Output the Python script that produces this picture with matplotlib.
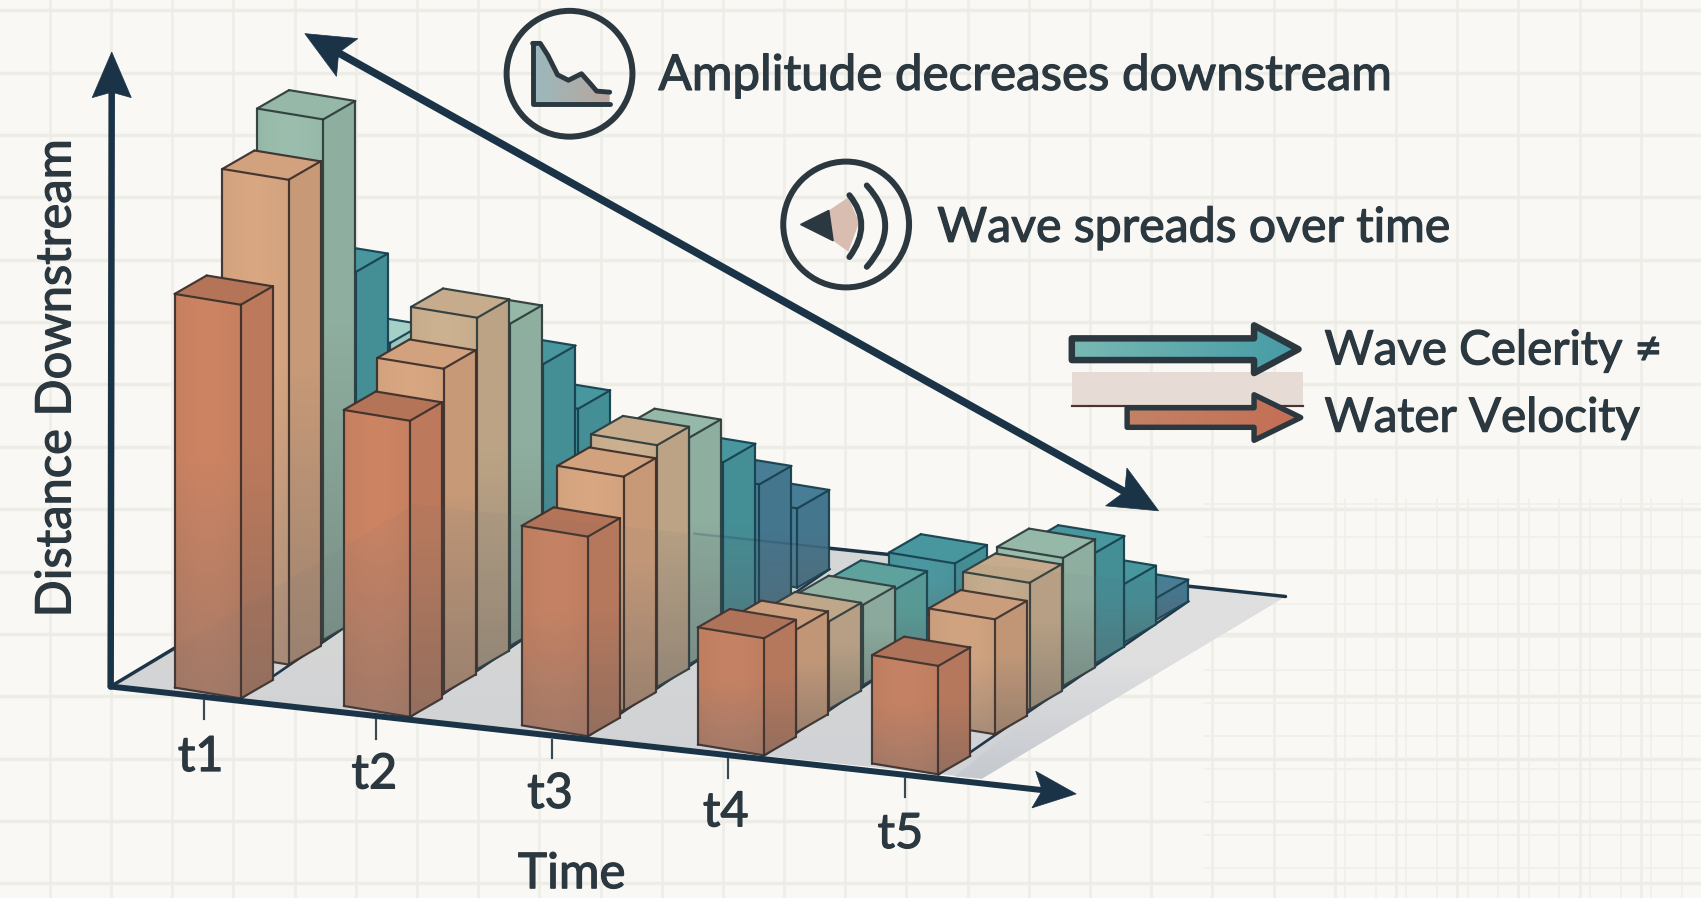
import numpy as np
import matplotlib
matplotlib.use("Agg")
import matplotlib.pyplot as plt
import matplotlib.patheffects as pe
from matplotlib.patches import Polygon, Circle, PathPatch
from matplotlib.path import Path

# ---------- data ----------
time_labels = ["t1", "t2", "t3", "t4", "t5"]
time_pos = [1.00, 1.97, 2.99, 4.00, 5.00]

t1_dist = [0.00, 1.42, 2.45, 3.42, 4.45]
t2_dist = [0.00, 1.00, 2.00, 2.97, 3.97, 5.00]
t3_dist = [0.00, 1.06, 2.06, 3.00, 4.03, 5.10, 6.23]
t4_dist = [0.00, 0.94, 1.94, 2.94, 3.90, 5.68]
t5_dist = [0.00, 1.68, 2.71, 3.71, 4.58, 5.52, 6.48]

t1_height = [3.63, 4.47, 4.80, 3.18, 2.30]
t2_height = [2.73, 2.99, 3.24, 2.97, 2.38, 1.74]
t3_height = [1.84, 2.16, 2.23, 2.09, 1.64, 1.20, 0.73]
t4_height = [1.08, 0.95, 0.81, 0.74, 0.67, 0.52]
t5_height = [1.00, 1.06, 1.17, 1.18, 1.02, 0.54, 0.20]

distances = [t1_dist, t2_dist, t3_dist, t4_dist, t5_dist]
heights = [t1_height, t2_height, t3_height, t4_height, t5_height]

ORANGE = (198, 128, 96)
PEACH = (210, 162, 126)
TAN = (198, 172, 140)
SAGE = (150, 184, 168)
TEALG = (92, 166, 160)
TEAL = (72, 150, 158)
BLUE = (72, 125, 150)
PALE = (165, 208, 200)

palettes = [
    [ORANGE, PEACH, SAGE, TEAL, PALE],
    [ORANGE, PEACH, TAN, SAGE, TEAL, TEAL],
    [ORANGE, PEACH, TAN, SAGE, TEAL, BLUE, BLUE],
    [ORANGE, PEACH, TAN, SAGE, TEALG, TEAL],
    [ORANGE, PEACH, TAN, SAGE, TEAL, TEAL, BLUE],
]

# ---------- canvas (units are reference-view pixels) ----------
plt.rcParams["font.family"] = ["Lato", "Roboto", "DejaVu Sans"]
BG = "#F9F8F4"
INK = "#2B3840"
AXC = "#1B3347"
fig = plt.figure(figsize=(17.01, 8.98), dpi=100, facecolor=BG)
ax = fig.add_axes([0, 0, 1, 1])
ax.set_xlim(0, 1568)
ax.set_ylim(828, 0)
ax.axis("off")
PX = 0.72 * 1701 / 1568  # points per view pixel
HEAVY = [pe.withStroke(linewidth=0.9, foreground=INK)]

# paper grid
for gx in np.arange(46, 1568, 56.4):
    ax.plot([gx, gx], [0, 828], color="#EFEFE9", lw=2.6 * PX, zorder=0.1)
for gy in np.arange(9.5, 828, 57.5):
    ax.plot([0, 1568], [gy, gy], color="#EDEDE7", lw=3.2 * PX, zorder=0.1)
for gx in np.arange(1240, 1568, 28.2):
    ax.plot([gx, gx], [460, 828], color="#EFEEE9", lw=1.4 * PX, zorder=0.2)
for gy in np.arange(465, 828, 30.5):
    ax.plot([1110, 1568], [gy, gy], color="#EFEEE9", lw=1.4 * PX, zorder=0.2)


def project(t, d, h=0.0):
    x = 222 + 160.75 * (t - 1) + 31 * d
    y = 644 + 17.5 * (t - 1) - 22 * d - 100 * h
    return np.array([x, y])


def gradient_poly(pts, top, bottom, z, stripe=0.0, alpha=None):
    pts = np.asarray(pts, float)
    x0, y0 = pts.min(axis=0)
    x1, y1 = pts.max(axis=0)
    u = np.linspace(0, 1, 40)[None, :, None]
    v = np.linspace(0, 1, 100)[:, None, None]
    ramp = np.clip((v - 0.4) / 0.6, 0, 1)
    img = (np.array(top)[None, None, :] * (1 - ramp) + np.array(bottom)[None, None, :] * ramp)
    img = img * (1 + stripe * np.sin(np.pi * u))
    img = np.clip(img / 255.0, 0, 1)
    im = ax.imshow(img, extent=(x0, x1, y1, y0), origin="upper", aspect="auto",
                   interpolation="bilinear", zorder=z, alpha=alpha)
    im.set_clip_path(Polygon(pts, closed=True, transform=ax.transData))


def fade(c):
    return tuple(0.64 * v + 0.36 * g for v, g in zip(c, (100, 104, 108)))


def shade(c, f):
    return tuple(v * f for v in c)


# floor
floor = [(102, 633), (905, 718), (1185, 550), (382, 465)]
gradient_poly(floor, (222, 222, 222), (216, 218, 221), 1)
gradient_poly([(905, 718), (1185, 550), (1100, 540), (880, 716)], (232, 232, 232), (204, 208, 214), 1.1)
ax.plot([382, 1185], [465, 550], color=AXC, lw=3.2 * PX, zorder=1.2, solid_capstyle="round")
ax.plot([102, 382], [633, 465], color=AXC, lw=3.2 * PX, zorder=1.2)

W = np.array([61.0, 10.0])
D = np.array([29.5, -17.0])

# bars: later time and nearer distance are painted last
z = 2.0
for ti, (tp, dists, hs, pal) in enumerate(zip(time_pos, distances, heights, palettes)):
    a = project(tp, 0, 0)
    b = project(tp, dists[-1], 0) + D
    ax.plot([a[0], b[0]], [a[1], b[1]], color=AXC, lw=2.4 * PX, zorder=z)
    z += 0.01
    for di in range(len(dists) - 1, -1, -1):
        c = pal[di]
        edge = "#3D302C" if c in (ORANGE, PEACH) else ("#2F3D3C" if c in (TAN, SAGE) else "#17414F")
        fr_b = project(tp, dists[di], 0)
        fr_t = project(tp, dists[di], hs[di])
        fl_b, fl_t = fr_b - W, fr_t - W
        br_b, br_t = fr_b + D, fr_t + D
        bl_t = fl_t + D
        gradient_poly([fl_t, fr_t, fr_b, fl_b], c, fade(c), z, stripe=0.03)
        gradient_poly([fr_t, br_t, br_b, fr_b], shade(c, 0.95), shade(fade(c), 0.93), z + 0.01)
        top_c = shade(c, 0.91) if c == ORANGE else c
        ax.add_patch(Polygon([fl_t, fr_t, br_t, bl_t], closed=True, fc=np.array(top_c) / 255,
                             ec="none", zorder=z + 0.02))
        for p, q in [(fl_t, fr_t), (fr_t, br_t), (br_t, bl_t), (bl_t, fl_t), (fl_t, fl_b),
                     (fr_t, fr_b), (br_t, br_b), (fl_b, fr_b), (fr_b, br_b)]:
            ax.plot([p[0], q[0]], [p[1], q[1]], color=edge, lw=2.0 * PX, zorder=z + 0.03,
                    solid_capstyle="round", alpha=0.95)
        z += 0.1

# translucent ground plane seen through the bars
ax.add_patch(Polygon(floor, closed=True, fc=(0.42, 0.44, 0.47), ec="none", alpha=0.07, zorder=z))
ax.plot([640, 780], [492, 507], color=AXC, lw=2.2 * PX, alpha=0.22, zorder=z)

TOP = z + 1


def arrow_head(tip, base, half, color=AXC, notch=0.0):
    tip, base = np.array(tip, float), np.array(base, float)
    n = np.array([-(tip - base)[1], (tip - base)[0]])
    n = n / np.hypot(*n) * half
    inner = base + (tip - base) * notch
    ax.add_patch(Polygon([tip, base + n, inner, base - n], closed=True, fc=color, ec=color,
                         lw=0.5, zorder=TOP + 0.1))


# axes
ax.plot([102, 103], [633, 70], color=AXC, lw=6.0 * PX, zorder=TOP, solid_capstyle="round")
arrow_head((103, 48), (103, 90), 18, notch=0.12)
ax.plot([102, 965], [633, 729], color=AXC, lw=5.5 * PX, zorder=TOP, solid_capstyle="round")
arrow_head((992, 732), (953, 728), 17, notch=0.2)

# diagonal double arrow
ax.plot([300, 1045], [42, 458], color=AXC, lw=7.0 * PX, zorder=TOP)
arrow_head((281, 31), (320, 53), 20, notch=0.2)
arrow_head((1068, 471), (1029, 449), 20, notch=0.2)

# time ticks and labels
tick_x = [188, 347, 509, 671, 834]
tick_y = [646, 664, 682, 700, 718]
label_pos = [(185, 698), (345, 714), (507, 732), (669, 749), (830, 769)]
for lab, tx, ty, (lx, ly) in zip(time_labels, tick_x, tick_y, label_pos):
    ax.plot([tx, tx], [ty, ty + 17], color="#3A4A55", lw=2 * PX, zorder=TOP)
    ax.text(lx, ly, lab, ha="center", va="center", fontsize=35, color=INK, zorder=TOP, path_effects=HEAVY)

ax.text(527, 806, "Time", ha="center", va="center", fontsize=35.5, color=INK, zorder=TOP, path_effects=HEAVY)
ax.text(52, 349, "Distance Downstream", ha="center", va="center", rotation=90, fontsize=35.2,
        color=INK, zorder=TOP, path_effects=HEAVY)

# annotations
ax.text(607, 70, "Amplitude decreases downstream", ha="left", va="center", fontsize=35.5, color=INK,
        zorder=TOP, path_effects=HEAVY)
ax.text(864, 210, "Wave spreads over time", ha="left", va="center", fontsize=34.7, color=INK,
        zorder=TOP, path_effects=HEAVY)
ax.text(1221, 324, "Wave Celerity \u2260", ha="left", va="center", fontsize=34.2, color=INK,
        zorder=TOP, path_effects=HEAVY)
ax.text(1221, 386, "Water Velocity", ha="left", va="center", fontsize=34.2, color=INK,
        zorder=TOP, path_effects=HEAVY)

# icon 1: small decaying curve in a circle
ax.add_patch(Circle((525, 68), 58, fc="none", ec=INK, lw=5.5 * PX, zorder=TOP))
cx = [491, 498, 505, 514, 524, 536, 544, 550, 562]
cy = [40, 40, 51, 69, 74, 68, 77, 84, 85]
icon_pts = np.array(list(zip(cx, cy)) + [(562, 96), (491, 96)], float)
g = np.linspace(0, 1, 40)[None, :, None]
img = (np.array((155, 185, 190))[None, None, :] * (1 - g) + np.array((185, 165, 155))[None, None, :] * g) / 255
im = ax.imshow(img, extent=(491, 562, 96, 40), aspect="auto", zorder=TOP)
im.set_clip_path(Polygon(icon_pts, closed=True, transform=ax.transData))
ax.plot(cx, cy, color=INK, lw=4.5 * PX, zorder=TOP + 0.1, solid_capstyle="round")
ax.plot([491, 491, 562], [40, 96, 96], color=INK, lw=4.5 * PX, zorder=TOP + 0.1, solid_capstyle="round")

# icon 2: speaker-like wave
ax.add_patch(Circle((780, 207), 58, fc="none", ec=INK, lw=5.5 * PX, zorder=TOP))
ax.add_patch(Polygon([(738, 207), (764, 194), (768, 222)], closed=True, fc=INK, ec=INK, zorder=TOP + 0.1))
ax.add_patch(Polygon([(764, 194), (782, 182), (792, 205), (782, 232), (768, 222)], closed=True,
                     fc="#D9BDB0", ec="none", zorder=TOP))
for verts in ([(783, 180), (805, 207), (783, 237)], [(799, 171), (833, 208), (799, 246)]):
    ax.add_patch(PathPatch(Path(verts, [Path.MOVETO, Path.CURVE3, Path.CURVE3]), fc="none", ec=INK,
                           lw=5.5 * PX, zorder=TOP + 0.1, capstyle="round"))

# legend arrows
ax.add_patch(Polygon([(988, 343), (1201, 343), (1201, 374), (988, 374)], closed=True, fc="#E7DBD6",
                     ec="none", zorder=TOP - 0.2))
ax.plot([988, 1201], [374, 374], color="#4A3330", lw=2 * PX, zorder=TOP - 0.1)


def fat_arrow(x0, x1, head_x, y, half, head_half, c0, c1, lw):
    shape = [(x0, y - half), (head_x, y - half), (head_x, y - head_half), (x1, y),
             (head_x, y + head_half), (head_x, y + half), (x0, y + half)]
    pts = np.array(shape, float)
    img = np.linspace(0, 1, 60)[None, :, None]
    img = (np.array(c0)[None, None, :] * (1 - img) + np.array(c1)[None, None, :] * img) / 255
    im = ax.imshow(img, extent=(x0, x1, y + head_half, y - head_half), aspect="auto", zorder=TOP + 0.2)
    im.set_clip_path(Polygon(pts, closed=True, transform=ax.transData))
    ax.add_patch(Polygon(pts, closed=True, fc="none", ec=INK, lw=lw * PX, joinstyle="round", zorder=TOP + 0.3))


fat_arrow(988, 1197, 1156, 322, 10, 22, (120, 185, 180), (70, 155, 165), 6)
fat_arrow(1039, 1199, 1156, 385, 9, 21, (195, 130, 100), (195, 110, 85), 5)

ax.set_xlim(0, 1568)
ax.set_ylim(828, 0)
fig.savefig("out.png", dpi=100, facecolor=BG)
